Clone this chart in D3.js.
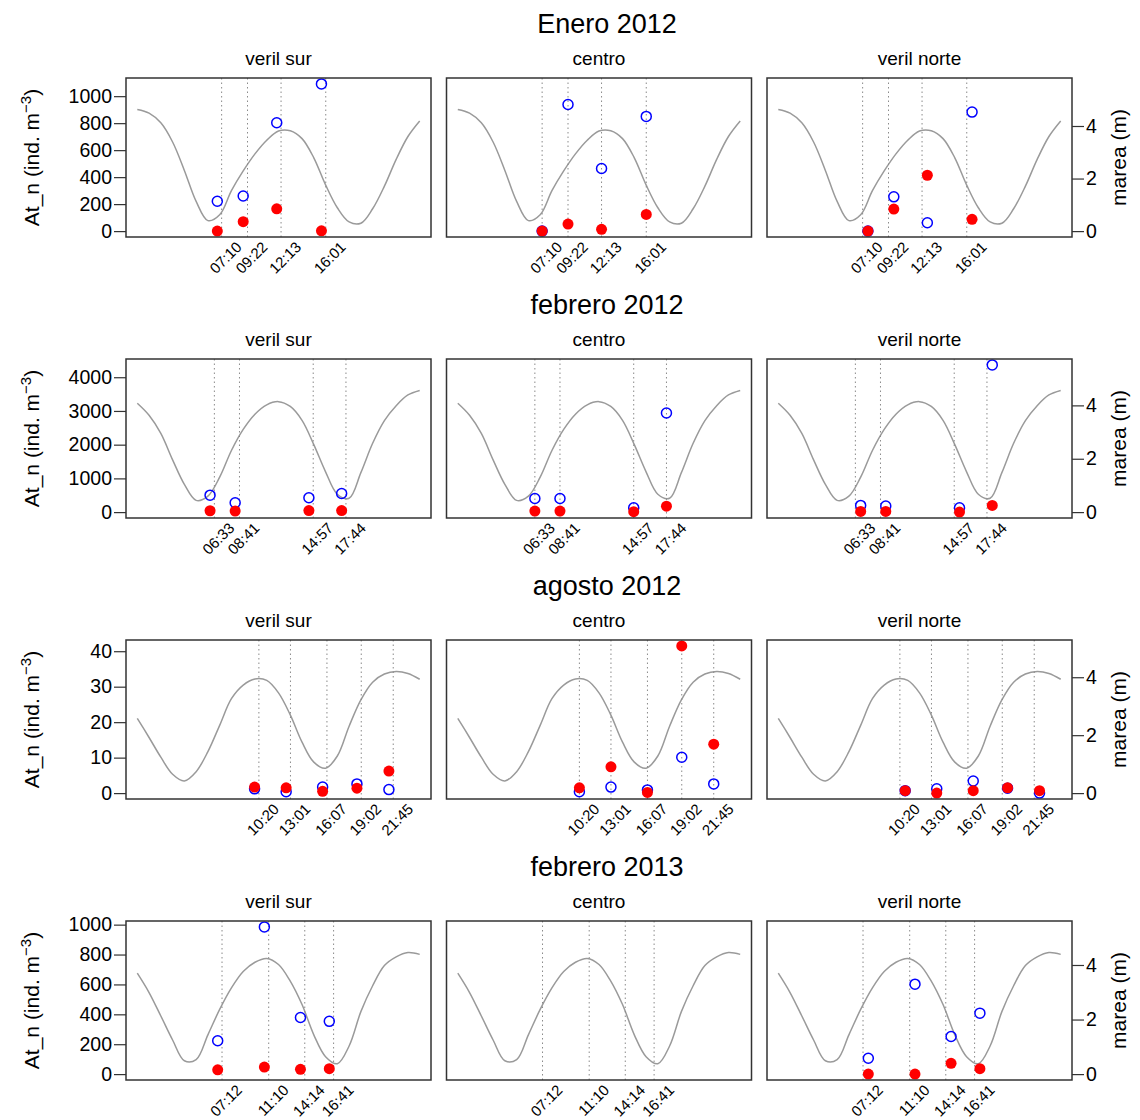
<!DOCTYPE html>
<html>
<head>
<meta charset="utf-8">
<script src="https://cdn.jsdelivr.net/npm/d3@7"></script>
<style>
body { margin: 0; background: #fff; }
svg { font-family: "Liberation Sans", Arial, sans-serif; }
</style>
</head>
<body>
<svg id="chart" width="1140" height="1120"></svg>
<script>
// campañas (filas) y sitios (columnas)
var campanas = ["Enero 2012", "febrero 2012", "agosto 2012", "febrero 2013"];
var sitios = ["veril sur", "centro", "veril norte"];

// horas de muestreo (etiquetas del eje x)
var horas = [
  ["07:10", "09:22", "12:13", "16:01"],
  ["06:33", "08:41", "14:57", "17:44"],
  ["10:20", "13:01", "16:07", "19:02", "21:45"],
  ["07:12", "11:10", "14:14", "16:41"]
];

// desfase de cada sitio respecto a la hora nominal (min)
var desfaseSitio = [-22, 0, 27];

// At_n (ind. m-3), círculos abiertos azules [campaña][sitio][muestra]
var azul = [
  [[221, 260, 803, 1091], [0, 938, 464, 850], [0, 254, 62, 882]],
  [[502, 278, 426, 553], [405, 405, 130, 2938], [198, 178, 130, 4366]],
  [[1.2, 0.4, 1.7, 2.6, 1.0], [0.4, 1.7, 0.9, 10.1, 2.6], [0.7, 1.2, 3.4, 1.4, 0]],
  [[223, 985, 379, 353], [], [106, 602, 252, 408]]
];

// At_n (ind. m-3), círculos rellenos rojos
var rojo = [
  [[0, 70, 165, 2], [0, 52, 13, 124], [0, 163, 414, 87]],
  [[40, 30, 45, 45], [30, 30, 12, 177], [20, 20, 0, 198]],
  [[1.7, 1.5, 0.5, 1.4, 6.2], [1.5, 7.4, 0.2, 41.5, 13.8], [0.7, 0, 0.7, 1.5, 0.7]],
  [[29, 47, 32, 36], [], [0, 0, 72, 36]]
];

// marea (m), valores horarios de 0 a 24 h
var marea = [
  [4.63, 4.49, 4.12, 3.39, 2.31, 1.13, 0.40, 0.62, 1.54, 2.29, 2.94, 3.46, 3.81,
   3.82, 3.52, 2.79, 1.76, 0.89, 0.35, 0.30, 0.85, 1.71, 2.73, 3.60, 4.19],
  [4.08, 3.63, 2.95, 1.96, 1.04, 0.44, 0.60, 1.31, 2.31, 3.10, 3.67, 4.02, 4.14,
   3.96, 3.44, 2.53, 1.51, 0.67, 0.52, 1.48, 2.58, 3.43, 3.99, 4.39, 4.56],
  [2.58, 1.92, 1.24, 0.65, 0.42, 0.74, 1.43, 2.34, 3.26, 3.73, 3.94, 3.89, 3.46,
   2.70, 1.76, 1.07, 0.86, 1.28, 2.31, 3.22, 3.83, 4.11, 4.20, 4.13, 3.93],
  [3.70, 2.99, 2.13, 1.25, 0.49, 0.53, 1.44, 2.37, 3.16, 3.76, 4.10, 4.24, 4.02,
   3.41, 2.55, 1.44, 0.64, 0.38, 1.03, 2.29, 3.24, 3.98, 4.30, 4.46, 4.39]
];

// layout
var panelW = 305, panelH = 159;
var left0 = 126, colStep = 320.5;
var top0 = 78, rowStep = 281;
var tickLen = 12;

var svg = d3.select("#chart");

function toHours(s) {
  var p = s.split(":");
  return +p[0] + (+p[1]) / 60;
}

// R-style 4% padding
function padded(lo, hi) {
  var d = (hi - lo) * 0.04;
  return [lo - d, hi + d];
}

campanas.forEach(function(camp, r) {
  var top = top0 + r * rowStep;
  var bottom = top + panelH;

  var yMax = d3.max(azul[r].concat(rojo[r]), function(a) { return d3.max(a) || 0; });
  var mMax = d3.max(marea[r]) * 1.21;
  var tiempos = horas[r].map(toHours);

  svg.append("text")
    .attr("x", 607)
    .attr("y", top - 45.5)
    .attr("text-anchor", "middle")
    .attr("font-size", 27)
    .text(camp);

  sitios.forEach(function(sitio, c) {
    var left = left0 + c * colStep;
    var g = svg.append("g");

    var x = d3.scaleLinear().domain(padded(0, 24)).range([left, left + panelW]);
    var y = d3.scaleLinear().domain(padded(0, yMax)).range([bottom, top]);
    var yM = d3.scaleLinear().domain(padded(0, mMax)).range([bottom, top]);

    g.append("text")
      .attr("x", left + panelW / 2)
      .attr("y", top - 13)
      .attr("text-anchor", "middle")
      .attr("font-size", 19)
      .text(sitio);

    // marea
    var line = d3.line()
      .x(function(d, i) { return x(i); })
      .y(function(d) { return yM(d); })
      .curve(d3.curveCatmullRom.alpha(0.5));
    g.append("path")
      .datum(marea[r])
      .attr("fill", "none")
      .attr("stroke", "#9a9a9a")
      .attr("stroke-width", 1.5)
      .attr("d", line);

    // líneas verticales de muestreo
    g.selectAll(".vl")
      .data(tiempos)
      .enter().append("line")
      .attr("x1", function(d) { return x(d); })
      .attr("x2", function(d) { return x(d); })
      .attr("y1", top)
      .attr("y2", bottom)
      .attr("stroke", "#8a8a8a")
      .attr("stroke-width", 1)
      .attr("stroke-dasharray", "1.5,3");

    // etiquetas de hora
    g.selectAll(".hl")
      .data(horas[r])
      .enter().append("text")
      .attr("transform", function(d, i) {
        return "translate(" + (x(tiempos[i]) + 21) + "," + (bottom + 11) + ") rotate(-45)";
      })
      .attr("text-anchor", "end")
      .attr("font-size", 15)
      .text(function(d) { return d; });

    var shift = desfaseSitio[c] / 60;

    g.selectAll(".az")
      .data(azul[r][c])
      .enter().append("circle")
      .attr("cx", function(d, i) { return x(tiempos[i] + shift); })
      .attr("cy", function(d) { return y(d); })
      .attr("r", 5)
      .attr("fill", "none")
      .attr("stroke", "#0000ff")
      .attr("stroke-width", 1.5);

    g.selectAll(".ro")
      .data(rojo[r][c])
      .enter().append("circle")
      .attr("cx", function(d, i) { return x(tiempos[i] + shift); })
      .attr("cy", function(d) { return y(d); })
      .attr("r", 5.5)
      .attr("fill", "#ff0000");

    // caja
    g.append("rect")
      .attr("x", left)
      .attr("y", top)
      .attr("width", panelW)
      .attr("height", panelH)
      .attr("fill", "none")
      .attr("stroke", "#333")
      .attr("stroke-width", 1.5);

    if (c === 0) {
      var ax = g.append("g")
        .attr("transform", "translate(" + left + ",0)")
        .call(d3.axisLeft(y).ticks(5).tickFormat(d3.format("d"))
          .tickSize(tickLen).tickSizeOuter(0).tickPadding(2));
      ax.select(".domain").remove();
      ax.selectAll("text").attr("font-size", 19.5).attr("font-family", null).attr("fill", "#000");
      ax.selectAll("line").attr("stroke", "#333").attr("stroke-width", 1.2);

      var lab = g.append("text")
        .attr("transform", "translate(39," + (top + panelH / 2) + ") rotate(-90)")
        .attr("text-anchor", "middle")
        .attr("font-size", 21);
      lab.append("tspan").text("At_n (ind. m");
      lab.append("tspan").attr("baseline-shift", "super").attr("font-size", 15).text("\u22123");
      lab.append("tspan").text(")");
    }

    if (c === 2) {
      var axr = g.append("g")
        .attr("transform", "translate(" + (left + panelW) + ",0)")
        .call(d3.axisRight(yM).ticks(3).tickFormat(d3.format("d"))
          .tickSize(tickLen).tickSizeOuter(0).tickPadding(2));
      axr.select(".domain").remove();
      axr.selectAll("text").attr("font-size", 19.5).attr("font-family", null).attr("fill", "#000");
      axr.selectAll("line").attr("stroke", "#333").attr("stroke-width", 1.2);

      g.append("text")
        .attr("transform", "translate(1126," + (top + panelH / 2) + ") rotate(-90)")
        .attr("text-anchor", "middle")
        .attr("font-size", 21)
        .text("marea (m)");
    }
  });
});
</script>
</body>
</html>
